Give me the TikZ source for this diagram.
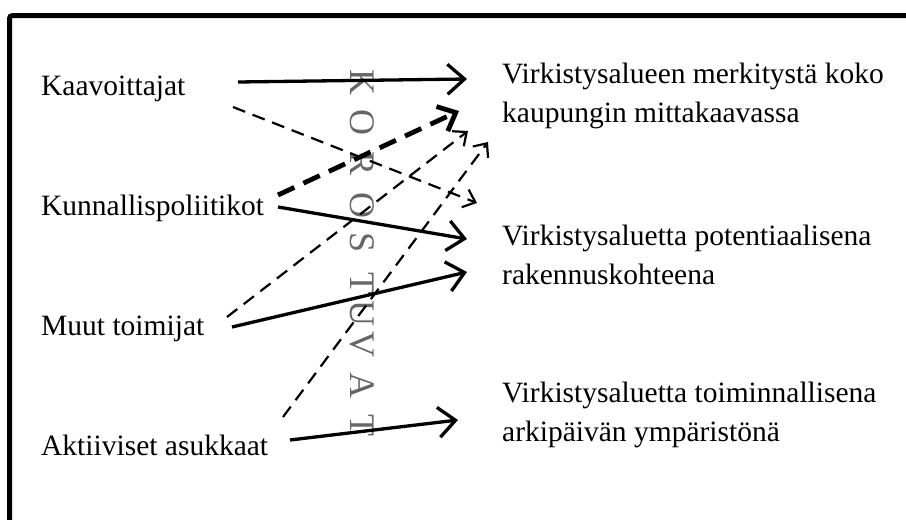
\documentclass[tikz,border=0pt]{standalone}
\usepackage{fontspec}
\setmainfont{Liberation Serif}
\usetikzlibrary{arrows.meta}
\begin{document}
\begin{tikzpicture}[x=1pt,y=-1pt,
  lbl/.style={anchor=base west, inner sep=0pt, font=\fontsize{29.5}{39}\selectfont},
  vlet/.style={inner sep=0pt, anchor=center, rotate=-90, text=black!60, font=\fontsize{36}{40}\selectfont},
  frame/.style={line width=5pt, rounded corners=3pt},
  solidarr/.style={line width=3.3pt, -{Straight Barb[length=17pt,width=30pt]}},
  thindash/.style={line width=2.2pt, dash pattern=on 13pt off 8pt, -{Straight Barb[length=11pt,width=19pt]}},
  thickdash/.style={line width=4.8pt, dash pattern=on 18pt off 10pt, -{Straight Barb[length=15pt,width=27pt]}}
]
\useasboundingbox (0,0) rectangle (906,520);
\fill[white] (0,0) rectangle (906,520);
\draw[frame] (9.5,525) -- (9.5,15.5) -- (910,15.5);

% vertical word
\foreach \ch/\yy in {K/82.5,O/122,R/164,O/205,S/243,T/283,U/313,V/344,A/385,T/425}
  \node[vlet] at (362,\yy) {\ch};

% left labels
\node[lbl] (kaa) at (41,95) {Kaavoittajat};
\node[lbl] (kun) at (41,215) {Kunnallispoliitikot};
\node[lbl] (muu) at (41,335) {Muut toimijat};
\node[lbl] (akt) at (41,455) {Aktiiviset asukkaat};

% right labels
\node[lbl] (r1) at (502,83) {\begin{tabular}[t]{@{}l@{}}Virkistysalueen merkitystä koko\\kaupungin mittakaavassa\end{tabular}};
\node[lbl] (r2) at (502,245) {\begin{tabular}[t]{@{}l@{}}Virkistysaluetta potentiaalisena\\rakennuskohteena\end{tabular}};
\node[lbl] (r3) at (502,402) {\begin{tabular}[t]{@{}l@{}}Virkistysaluetta toiminnallisena\\arkipäivän ympäristönä\end{tabular}};

% connector end points
\coordinate (a1s) at (238,82);   \coordinate (a1e) at (467,79);
\coordinate (a2s) at (233,107);  \coordinate (a2e) at (477,203);
\coordinate (a3s) at (278,195);  \coordinate (a3e) at (459,111);
\coordinate (a4s) at (278,207);  \coordinate (a4e) at (467,239);
\coordinate (a5s) at (227,317);  \coordinate (a5e) at (468,131);
\coordinate (a6s) at (232,327);  \coordinate (a6e) at (467,272);
\coordinate (a7s) at (283,417);  \coordinate (a7e) at (488,142);
\coordinate (a8s) at (290,440);  \coordinate (a8e) at (458,420);

\draw[solidarr] (a1s) -- (a1e);
\draw[thindash] (a2s) -- (a2e);
\draw[thickdash] (a3s) -- (a3e);
\draw[solidarr] (a4s) -- (a4e);
\draw[thindash] (a5s) -- (a5e);
\draw[solidarr] (a6s) -- (a6e);
\draw[thindash] (a7s) -- (a7e);
\draw[solidarr] (a8s) -- (a8e);
\end{tikzpicture}
\end{document}
